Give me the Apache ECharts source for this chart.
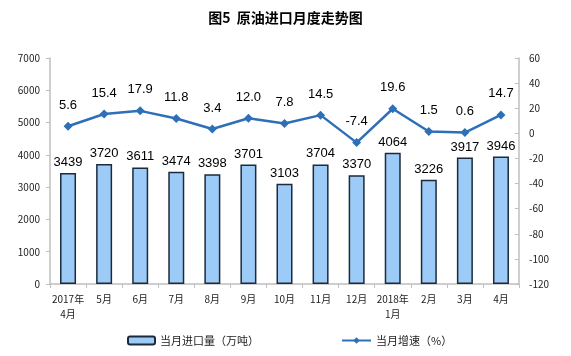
<!DOCTYPE html>
<html><head><meta charset="utf-8">
<script src="https://cdn.jsdelivr.net/npm/echarts@6/dist/echarts.min.js"></script>
<style>html,body{margin:0;padding:0;background:#fff}#c{width:571px;height:356px}</style>
</head><body><div id="c"></div>
<script>
var categories = ['2017年\n4月','5月','6月','7月','8月','9月','10月','11月','12月','2018年\n1月','2月','3月','4月'];
var importVolume = [3439,3720,3611,3474,3398,3701,3103,3704,3370,4064,3226,3917,3946];
var growthRate = [5.6,15.4,17.9,11.8,3.4,12.0,7.8,14.5,-7.4,19.6,1.5,0.6,14.7];
var leftTicks = {min:0, max:7000, interval:1000};
var rightTicks = {min:-120, max:60, interval:20};

var axisFont = {fontFamily:'"Noto Sans CJK SC", sans-serif', fontSize:10, color:'#222'};
var chart = echarts.init(document.getElementById('c'));
chart.setOption({
  animation:false,
  title:{text:'图5  原油进口月度走势图', left:'center', top:6,
    textStyle:{fontFamily:'"Noto Sans CJK SC", sans-serif', fontSize:14, fontWeight:'bold', color:'#000'}},
  grid:{left:50, right:52, top:58, bottom:72},
  legend:[{
    data:[{name:'当月进口量（万吨）'}], left:122, top:330, itemWidth:27, itemHeight:8, itemGap:4,
    textStyle:{fontFamily:'"Noto Sans CJK SC", sans-serif', fontSize:11, color:'#222'}
  },{
    data:[{name:'当月增速（%）'}], left:336, top:330, itemWidth:29, itemHeight:8,
    textStyle:{fontFamily:'"Noto Sans CJK SC", sans-serif', fontSize:11, color:'#222'}
  }],
  xAxis:{type:'category', data:categories,
    axisLine:{lineStyle:{color:'#bfbfbf', width:1.5}},
    axisTick:{show:true, alignWithLabel:false, length:4, lineStyle:{color:'#bfbfbf'}},
    axisLabel:Object.assign({interval:0, margin:8, lineHeight:15}, axisFont)},
  yAxis:[{type:'value', min:leftTicks.min, max:leftTicks.max, interval:leftTicks.interval,
      splitLine:{show:false},
      axisLine:{show:true, lineStyle:{color:'#bfbfbf', width:1.5}},
      axisTick:{show:true, length:4, lineStyle:{color:'#bfbfbf'}},
      axisLabel:Object.assign({margin:10, formatter:function(v){return String(v);}}, axisFont)},
    {type:'value', position:'right', min:rightTicks.min, max:rightTicks.max, interval:rightTicks.interval,
      splitLine:{show:false},
      axisLine:{show:true, lineStyle:{color:'#bfbfbf', width:1.5}},
      axisTick:{show:true, inside:true, length:4, lineStyle:{color:'#bfbfbf'}},
      axisLabel:Object.assign({margin:10, formatter:function(v){return String(v);}}, axisFont)}],
  series:[{
    name:'当月进口量（万吨）', type:'bar', data:importVolume, barWidth:16, yAxisIndex:0,
    itemStyle:{color:'#9dcbf7', borderColor:'#1c2a3a', borderWidth:1.5},
    label:{show:true, position:'top', distance:4, fontFamily:'Arial, "Liberation Sans", sans-serif', fontSize:13, color:'#000'}
  },{
    name:'当月增速（%）', type:'line', data:growthRate, yAxisIndex:1,
    symbol:'diamond', symbolSize:9,
    lineStyle:{color:'#2e6fb7', width:2.5}, itemStyle:{color:'#2e6fb7'},
    label:{show:true, position:'top', distance:10, fontFamily:'Arial, "Liberation Sans", sans-serif', fontSize:13, color:'#000',
      formatter:function(p){return p.value.toFixed(1);}},
    z:5
  }]
});
</script></body></html>
